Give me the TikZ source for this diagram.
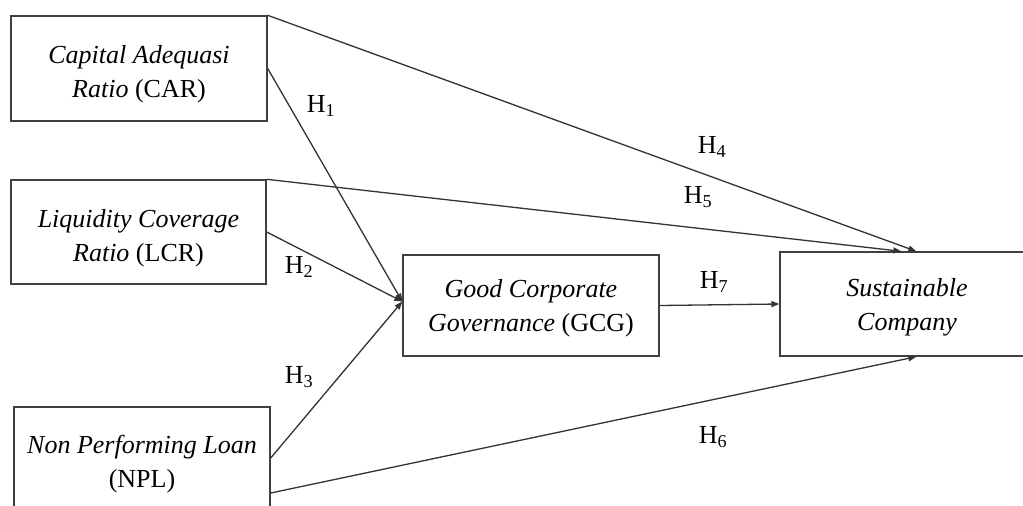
\documentclass[tikz,border=0pt]{standalone}
\usepackage{fontspec}
\setmainfont{Liberation Serif}
\usetikzlibrary{arrows.meta,calc}
\newcommand{\dropA}{\rule{0pt}{30pt}}
\newcommand{\dropB}{\rule{0pt}{24pt}}
\begin{document}
\begin{tikzpicture}[x=1pt,y=-1pt,
  box/.style={draw=black!75,line width=1.4pt,fill=white,align=center,inner sep=0pt,
    font=\fontsize{26}{34}\selectfont},
  conn/.style={draw=black!80,line width=1.3pt,-{Triangle[length=8pt,width=6pt]}},
  hlab/.style={font=\fontsize{26}{28}\selectfont,inner sep=0pt}]
\useasboundingbox (0,0) rectangle (1023,506);
\clip (0,0) rectangle (1023,506);
\fill[white] (0,0) rectangle (1023,506);
\node[box,minimum width=256pt,minimum height=105pt] (CAR) at (139,68.5)
  {\dropA\textit{Capital Adequasi}\\\textit{Ratio} (CAR)};
\node[box,minimum width=255pt,minimum height=104pt] (LCR) at (138.5,232)
  {\dropA\textit{Liquidity Coverage}\\\textit{Ratio} (LCR)};
\node[box,minimum width=256pt,minimum height=108pt] (NPL) at (142,461)
  {\dropB\textit{Non Performing Loan}\\(NPL)};
\node[box,minimum width=256pt,minimum height=101pt] (GCG) at (531,305.5)
  {\dropB\textit{Good Corporate}\\\textit{Governance} (GCG)};
\node[box,minimum width=254pt,minimum height=104pt] (SC) at (907,304)
  {\dropB\textit{Sustainable}\\\textit{Company}};
\draw[conn] (CAR.north east) -- ([xshift=137pt]SC.north west);
\draw[conn] (LCR.north east) -- ([xshift=122pt]SC.north west);
\draw[conn] (CAR.east) -- ([yshift=4pt]GCG.west);
\draw[conn] (LCR.east) -- ([yshift=4pt]GCG.west);
\draw[conn] ([yshift=3pt]NPL.east) -- ([yshift=4pt]GCG.west);
\draw[conn] ([yshift=-32pt]NPL.east) -- ([xshift=137pt]SC.south west);
\draw[conn] (GCG.east) -- (SC.west);
\node[hlab] (h1) at (321,106) {H\textsubscript{1}};
\node[hlab] (h2) at (299,267) {H\textsubscript{2}};
\node[hlab] (h3) at (299,377) {H\textsubscript{3}};
\node[hlab] (h4) at (712,147) {H\textsubscript{4}};
\node[hlab] (h5) at (698,197) {H\textsubscript{5}};
\node[hlab] (h6) at (713,437) {H\textsubscript{6}};
\node[hlab] (h7) at (714,282) {H\textsubscript{7}};
\end{tikzpicture}
\end{document}
